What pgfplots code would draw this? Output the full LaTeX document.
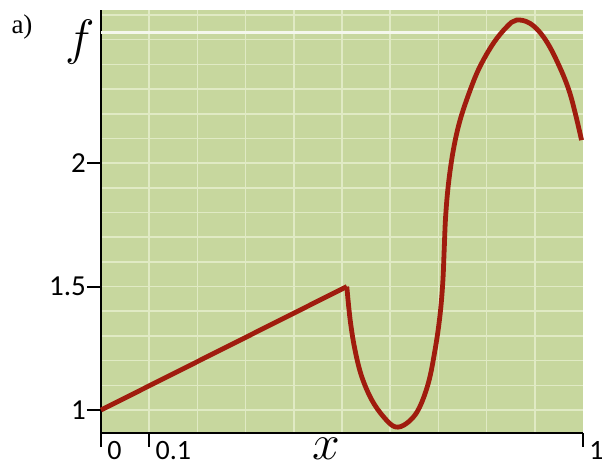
\documentclass[border=0pt]{standalone}
\usepackage{pgfplots}
\pgfplotsset{compat=1.18}
\usepackage{fontspec}
\setmainfont{Carlito}
\newfontfamily\serifA{Liberation Serif}

\definecolor{bggreen}{RGB}{199,215,158}
\definecolor{gridc}{RGB}{224,234,196}
\definecolor{curve}{RGB}{160,28,14}

\begin{document}
\begin{tikzpicture}
\begin{axis}[
    name=ax,
    scale only axis,
    width=241pt, height=211.5pt,
    xmin=0, xmax=1,
    ymin=0.907, ymax=2.62,
    axis x line*=bottom,
    axis y line*=left,
    axis line style={black, line width=1pt},
    axis background/.style={fill=bggreen},
    xtick={0,0.1,1},
    xticklabels={0,0.1,1},
    ytick={1,1.5,2},
    yticklabels={1,1.5,2},
    minor xtick={0.1,0.2,...,0.9},
    minor ytick={1.0,1.1,...,2.6},
    tick align=outside,
    major tick length=7pt,
    minor tick length=0pt,
    tick style={black, line width=1pt},
    grid=minor,
    minor grid style={gridc, line width=0.8pt},
    xticklabel style={anchor=north west, inner sep=0.5pt, xshift=2.5pt, yshift=3.5pt,
        font=\fontsize{14}{15}\selectfont},
    yticklabel style={xshift=3pt, font=\fontsize{14.5}{16}\selectfont},
    /pgf/number format/assume math mode=true,
    clip=false,
]
\draw[white!80!bggreen, line width=1.4pt] (axis cs:0,2.53) -- (axis cs:1,2.53);

\addplot[curve, line width=2.4pt] coordinates {
    (0,1) (0.51,1.5)
};
\addplot[curve, line width=2.4pt, smooth, tension=0.6] coordinates {
    (0.51,1.5) (0.517,1.364) (0.527,1.243) (0.541,1.135) (0.562,1.040)
    (0.586,0.973) (0.610,0.932) (0.634,0.946) (0.658,1.000) (0.679,1.108)
    (0.693,1.243) (0.703,1.378) (0.709,1.513) (0.712,1.648) (0.715,1.783)
    (0.721,1.918) (0.731,2.053) (0.745,2.174) (0.766,2.296) (0.786,2.390)
    (0.814,2.485) (0.842,2.552) (0.862,2.579) (0.890,2.566) (0.918,2.511)
    (0.945,2.417) (0.973,2.282) (0.997,2.093)
};
\end{axis}
\node at ([shift={(-39.5pt,203pt)}]ax.south west) {\serifA\fontsize{13.5}{15}\selectfont a)};
\node at ([shift={(-10.5pt,195.5pt)}]ax.south west) {\fontsize{28}{30}\selectfont$f$};
\node[inner sep=0pt] at ([shift={(112.5pt,-8pt)}]ax.south west) {\fontsize{28}{30}\selectfont$x$};
\pgfresetboundingbox
\path (ax.south west) +(-50.5pt,-17pt) rectangle +(250.5pt,216.5pt);
\end{tikzpicture}
\end{document}
